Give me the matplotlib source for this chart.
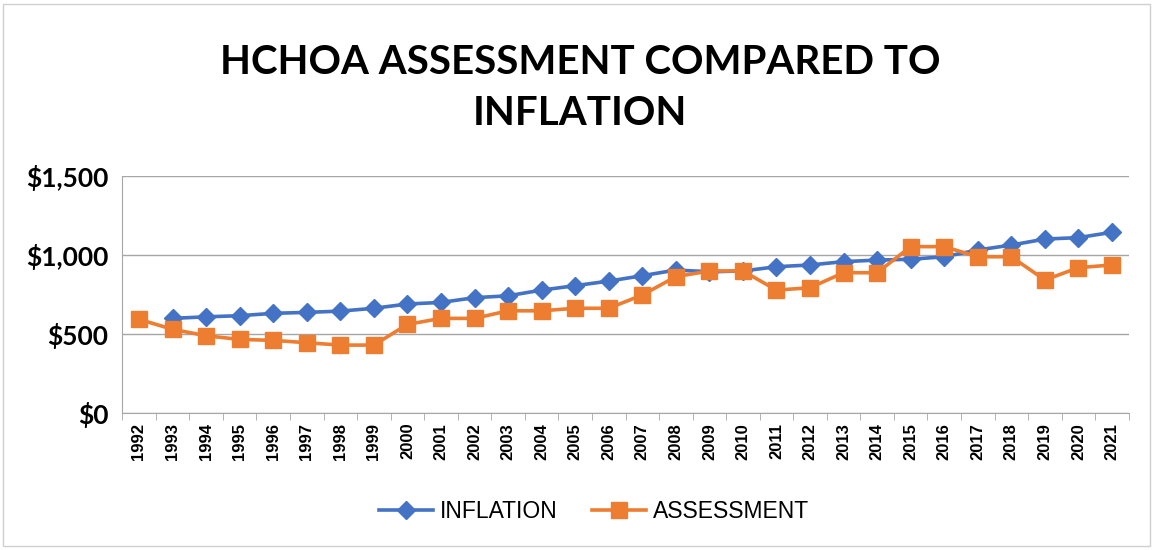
import matplotlib
matplotlib.use('Agg')
import matplotlib.pyplot as plt
from matplotlib.patches import Rectangle
import numpy as np

years = [str(y) for y in range(1992, 2022)]
inflation = [np.nan, 599, 609, 616, 631, 637, 645, 663, 690, 700, 730, 742, 778, 806, 835,
             869, 905, 894, 899, 926, 937, 958, 968, 973, 989, 1032, 1063, 1101, 1110, 1144]
assessment = [593, 530, 489, 466, 460, 445, 430, 430, 561, 599, 599, 647, 647, 663, 663,
              747, 863, 899, 899, 778, 793, 888, 888, 1053, 1053, 989, 989, 842, 920, 937]
yticks = [0, 500, 1000, 1500]
ytick_labels = ['$0', '$500', '$1,000', '$1,500']

fig = plt.figure(figsize=(11.53, 5.5), dpi=100)
ax = fig.add_axes([0.106, 0.249, 0.873, 0.431])

x = np.arange(len(years))
ax.plot(x, inflation, color='#4472C4', lw=2.6, marker='D', ms=9, label='INFLATION')
ax.plot(x, assessment, color='#ED7D31', lw=2.6, marker='s', ms=11.5, label='ASSESSMENT')

ax.set_xlim(-0.5, len(years) - 0.5)
ax.set_ylim(0, 1500)
ax.set_yticks(yticks)
ax.set_yticklabels(ytick_labels, fontsize=19, fontweight='bold', family='Lato')
ax.set_xticks(x)
ax.set_xticklabels(years, rotation=90, fontsize=12, fontweight='bold', family='Liberation Sans')
ax.set_xticks(np.arange(-0.5, len(years)), minor=True)
ax.tick_params(axis='x', which='major', length=0, pad=7)
ax.tick_params(axis='x', which='minor', length=5, color='#A6A6A6')
ax.tick_params(axis='y', length=0, pad=10)
ax.yaxis.grid(True, color='#A6A6A6', lw=1)
ax.set_axisbelow(True)
for s in ['top', 'right']:
    ax.spines[s].set_visible(False)
for s in ['left', 'bottom']:
    ax.spines[s].set_color('#A6A6A6')

fig.text(0.503, 0.84, 'HCHOA ASSESSMENT COMPARED TO\nINFLATION', ha='center', va='center',
         fontsize=29, fontweight='bold', family='Lato', linespacing=1.45)

fig.legend(loc='center', bbox_to_anchor=(0.515, 0.07), ncol=2, frameon=False,
           prop={'family': 'Liberation Sans', 'size': 16.5}, handlelength=2.35,
           columnspacing=1.5, handletextpad=0.3)

fig.patches.append(Rectangle((0.003, 0.008), 0.994, 0.985, transform=fig.transFigure,
                             fill=False, edgecolor='#D0D0D0', lw=1))

fig.savefig('out.png', dpi=100)
